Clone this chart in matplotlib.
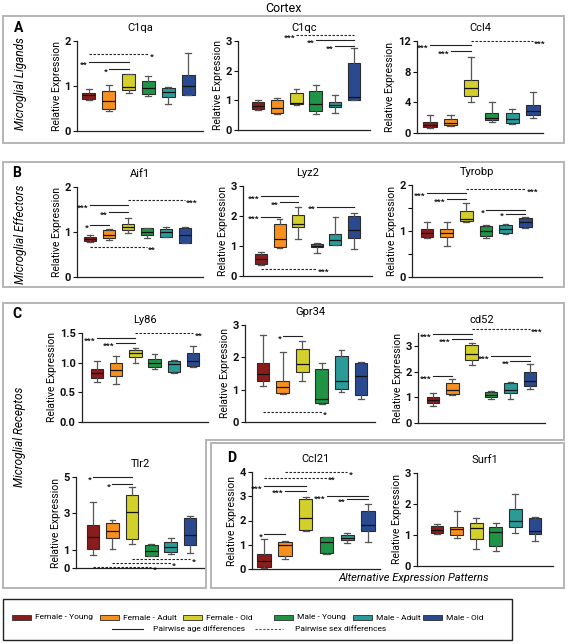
import matplotlib
matplotlib.use("Agg")
import matplotlib.pyplot as plt
from matplotlib.patches import Rectangle, Polygon
from matplotlib.lines import Line2D

plt.rcParams["font.family"] = ["Roboto", "DejaVu Sans"]

GROUPS = ["Female - Young", "Female - Adult", "Female - Old",
          "Male - Young", "Male - Adult", "Male - Old"]
COLORS = ["#8b1c1c", "#f7901e", "#d3cf2b", "#1f9445", "#2a9b98", "#2a4a90"]

# each row: whisker low, q1, median, q3, whisker high
C1QA = [[0.68, 0.72, 0.79, 0.85, 0.93], [0.45, 0.50, 0.67, 0.90, 1.03],
        [0.85, 0.91, 0.98, 1.26, 1.27], [0.78, 0.82, 0.95, 1.12, 1.22],
        [0.60, 0.75, 0.87, 0.95, 0.98], [0.80, 0.81, 1.00, 1.25, 1.73]]
C1QC = [[0.68, 0.70, 0.81, 0.93, 1.00], [0.55, 0.58, 0.75, 1.00, 1.07],
        [0.85, 0.88, 0.92, 1.25, 1.37], [0.55, 0.65, 0.88, 1.30, 1.52],
        [0.58, 0.77, 0.85, 0.93, 1.18], [1.00, 1.01, 1.10, 2.27, 2.78]]
CCL4 = [[0.60, 0.75, 1.10, 1.50, 2.40], [0.85, 1.00, 1.35, 1.80, 2.40],
        [4.00, 4.80, 5.90, 6.90, 9.90], [1.50, 1.70, 2.00, 2.60, 4.00],
        [1.20, 1.30, 1.80, 2.60, 3.10], [1.90, 2.30, 2.90, 3.60, 5.30]]
AIF1 = [[0.77, 0.80, 0.85, 0.90, 0.93], [0.83, 0.86, 0.93, 1.05, 1.07],
        [0.98, 1.05, 1.12, 1.18, 1.32], [0.86, 0.93, 1.00, 1.08, 1.10],
        [0.88, 0.90, 1.00, 1.07, 1.12], [0.75, 0.76, 0.93, 1.10, 1.11]]
LYZ2 = [[0.36, 0.40, 0.58, 0.73, 0.81], [0.94, 0.98, 1.22, 1.75, 1.90],
        [1.25, 1.63, 1.73, 2.05, 2.30], [0.78, 0.96, 1.00, 1.06, 1.09],
        [1.03, 1.05, 1.20, 1.40, 1.98], [0.90, 1.27, 1.53, 2.00, 2.10]]
TYROBP = [[0.84, 0.88, 0.96, 1.05, 1.20], [0.68, 0.87, 0.95, 1.05, 1.20],
          [1.20, 1.21, 1.27, 1.43, 1.60], [0.85, 0.90, 1.00, 1.10, 1.12],
          [0.93, 0.96, 1.04, 1.13, 1.15], [1.06, 1.09, 1.20, 1.28, 1.31]]
LY86 = [[0.68, 0.75, 0.83, 0.89, 1.02], [0.64, 0.78, 0.88, 1.00, 1.11],
        [1.00, 1.10, 1.17, 1.21, 1.24], [0.89, 0.93, 1.00, 1.06, 1.14],
        [0.82, 0.85, 0.98, 1.03, 1.05], [0.93, 0.94, 1.03, 1.17, 1.28]]
GPR34 = [[1.12, 1.28, 1.50, 1.82, 2.70], [0.87, 0.90, 1.08, 1.27, 2.17],
         [1.28, 1.56, 1.78, 2.25, 2.49], [0.56, 0.58, 0.72, 1.63, 1.84],
         [0.92, 1.02, 1.28, 2.04, 2.22], [0.71, 0.82, 1.42, 1.84, 1.86]]
CD52 = [[0.67, 0.77, 0.90, 1.00, 1.15], [1.08, 1.12, 1.30, 1.55, 1.71],
        [2.25, 2.45, 2.68, 3.05, 3.12], [0.93, 1.00, 1.09, 1.19, 1.25],
        [0.93, 1.15, 1.30, 1.57, 1.60], [1.33, 1.44, 1.62, 2.00, 2.30]]
TLR2 = [[0.70, 1.03, 1.70, 2.35, 3.60], [1.05, 1.63, 2.03, 2.45, 2.65],
        [1.30, 1.60, 3.05, 4.00, 4.45], [0.66, 0.68, 0.93, 1.26, 1.30],
        [0.77, 0.90, 1.17, 1.41, 1.63], [0.80, 1.27, 1.80, 2.73, 2.85]]
CCL21 = [[0.05, 0.08, 0.33, 0.62, 1.22], [0.41, 0.54, 0.98, 1.13, 1.17],
         [1.55, 1.60, 2.10, 2.88, 2.97], [0.63, 0.65, 1.13, 1.32, 1.34],
         [1.09, 1.19, 1.28, 1.42, 1.47], [1.10, 1.58, 1.80, 2.38, 2.68]]
SURF1 = [[1.03, 1.05, 1.17, 1.30, 1.36], [0.90, 1.00, 1.20, 1.25, 1.77],
         [0.55, 0.86, 1.23, 1.38, 1.55], [0.50, 0.63, 1.10, 1.26, 1.39],
         [1.08, 1.27, 1.45, 1.85, 2.33], [0.80, 1.02, 1.12, 1.55, 1.58]]

# significance bars: (group from, group to, level, stars, dashed=sex difference, star side)
C1QA_SIG = [(1, 4, 1.71, "*", True, "r"), (1, 3, 1.53, "**", False, "l"),
            (2, 3, 1.38, "*", False, "l")]
C1QC_SIG = [(3, 6, 3.20, "***", True, "l"), (4, 6, 3.03, "**", False, "l"),
            (5, 6, 2.83, "**", False, "l")]
CCL4_SIG = [(1, 3, 11.5, "***", False, "l"), (2, 3, 10.7, "***", False, "l"),
            (3, 6, 12.0, "***", True, "r")]
AIF1_SIG = [(1, 3, 1.60, "***", False, "l"), (2, 3, 1.45, "**", False, "l"),
            (1, 2, 1.16, "*", False, "l"), (3, 6, 1.71, "***", True, "r"),
            (1, 4, 0.67, "**", True, "r")]
LYZ2_SIG = [(1, 3, 2.67, "***", False, "l"), (2, 3, 2.46, "**", False, "l"),
            (1, 2, 1.98, "***", False, "l"), (4, 6, 2.31, "**", False, "l"),
            (1, 4, 0.22, "***", True, "r")]
TYROBP_SIG = [(1, 3, 1.82, "***", False, "l"), (2, 3, 1.70, "***", False, "l"),
              (3, 6, 1.91, "***", True, "r"), (4, 6, 1.46, "*", False, "l"),
              (5, 6, 1.38, "*", False, "l")]
LY86_SIG = [(1, 3, 1.42, "***", False, "l"), (2, 3, 1.33, "***", False, "l"),
            (3, 6, 1.50, "**", True, "r")]
GPR34_SIG = [(2, 3, 2.66, "*", False, "l"), (1, 4, 0.30, "*", True, "r")]
CD52_SIG = [(1, 3, 3.45, "***", False, "l"), (2, 3, 3.26, "***", False, "l"),
            (3, 6, 3.65, "***", True, "r"), (1, 2, 1.83, "***", False, "l"),
            (4, 6, 2.60, "***", False, "l"), (5, 6, 2.41, "**", False, "l")]
TLR2_SIG = [(1, 3, 5.00, "*", False, "l"), (2, 3, 4.60, "*", False, "l"),
            (3, 6, 0.48, "*", True, "r"), (2, 5, 0.29, "*", True, "r"),
            (1, 4, 0.04, "*", True, "r")]
CCL21_SIG = [(1, 4, 3.77, "**", True, "r"), (2, 5, 4.01, "*", True, "r"),
             (1, 3, 3.42, "***", False, "l"), (2, 3, 3.23, "***", False, "l"),
             (4, 6, 3.02, "***", False, "l"), (5, 6, 2.87, "**", False, "l"),
             (1, 2, 1.44, "*", False, "l")]
SURF1_SIG = []

W, H = 568, 644
fig = plt.figure(figsize=(W / 100, H / 100), dpi=100)
EDGE = "#2b2b2b"


def fig_xy(x, y):
    return x / W, 1 - y / H


def draw_gene(name, stats, sigs, box, xlim, ymax, yticks, fmt="%g"):
    l, r, t, b = box
    ax = fig.add_axes([l / W, 1 - b / H, (r - l) / W, (b - t) / H])
    bxp_stats = [dict(whislo=s[0], q1=s[1], med=s[2], q3=s[3], whishi=s[4]) for s in stats]
    parts = ax.bxp(bxp_stats, positions=range(1, 7), widths=0.65, showfliers=False,
                   patch_artist=True, capwidths=0.3,
                   boxprops=dict(edgecolor=EDGE, linewidth=0.8),
                   medianprops=dict(color="#111111", linewidth=0.9),
                   whiskerprops=dict(color="#555555", linewidth=0.9),
                   capprops=dict(color="#555555", linewidth=0.9))
    for patch, c in zip(parts["boxes"], COLORS):
        patch.set_facecolor(c)

    for i, j, y, stars, dashed, side in sigs:
        ax.plot([i, j], [y, y], color="#222222", lw=0.8,
                ls=(0, (2.2, 1.4)) if dashed else "-", clip_on=False)
        if side == "l":
            ax.annotate(stars, (i, y), xytext=(-1, -3.3), textcoords="offset points",
                        ha="right", va="baseline", fontsize=6, fontweight="bold",
                        annotation_clip=False)
        else:
            ax.annotate(stars, (j, y), xytext=(1, -3.3), textcoords="offset points",
                        ha="left", va="baseline", fontsize=6, fontweight="bold",
                        annotation_clip=False)

    ax.set_xlim(*xlim)
    ax.set_ylim(0, ymax)
    ax.set_xticks([])
    ax.set_yticks(yticks, [fmt % v for v in yticks], fontweight="bold", fontsize=8)
    ax.tick_params(axis="y", direction="out", length=3, width=0.8, pad=1.5, colors="#111111")
    for side in ("top", "right"):
        ax.spines[side].set_visible(False)
    for side in ("left", "bottom"):
        ax.spines[side].set_color("#222222")
        ax.spines[side].set_linewidth(0.9)
    ax.set_ylabel("Relative Expression", fontsize=7.5, labelpad=2)
    ax.set_title(name, fontsize=8, pad=7)
    ax.patch.set_alpha(0)
    return ax


draw_gene("C1qa", C1QA, C1QA_SIG, (77, 203, 41, 131), (0.4, 6.75), 2, [0, 1, 2])
draw_gene("C1qc", C1QC, C1QC_SIG, (238, 370, 41, 130), (-0.04, 6.83), 3, [0, 1, 2, 3])
draw_gene("Ccl4", CCL4, CCL4_SIG, (417, 543, 41, 133), (0.37, 6.49), 12, [0, 4, 8, 12])
draw_gene("Aif1", AIF1, AIF1_SIG, (77, 203, 187, 277), (0.32, 6.95), 2, [0, 1, 2])
draw_gene("Lyz2", LYZ2, LYZ2_SIG, (243, 372, 186, 276), (0.03, 6.97), 3, [0, 1, 2, 3])
ax_ty = draw_gene("Tyrobp", TYROBP, TYROBP_SIG, (412, 542, 185, 277), (0.23, 6.86), 2, [0, 1, 2])
ax_ty.set_yticks([0.5, 1.5], minor=True)
ax_ty.tick_params(axis="y", which="minor", length=3, width=0.8)
draw_gene("Ly86", LY86, LY86_SIG, (82, 208, 333, 422), (0.22, 6.78), 1.5,
          [0, 0.5, 1.0, 1.5], fmt="%.1f")
draw_gene("Gpr34", GPR34, GPR34_SIG, (245, 375, 325, 422), (0.08, 6.71), 3, [0, 1, 2, 3])
draw_gene("cd52", CD52, CD52_SIG, (418, 545, 333, 423), (0.23, 6.78), 3.5, [0, 1, 2, 3])
draw_gene("Tlr2", TLR2, TLR2_SIG, (76, 205, 477, 568), (0.12, 6.77), 5, [0, 1, 3, 5])
draw_gene("Ccl21", CCL21, CCL21_SIG, (252, 380, 472, 569), (0.42, 6.57), 4, [0, 1, 2, 3, 4])
draw_gene("Surf1", SURF1, SURF1_SIG, (417, 553, 473, 566), (-0.02, 6.92), 3, [0, 1, 2, 3])

# panel frames
FRAME = dict(fill=False, edgecolor="#b5b5b5", linewidth=1.4, transform=fig.transFigure)


def frame_rect(x0, y0, x1, y1):
    fig.add_artist(Rectangle(fig_xy(x0, y1), (x1 - x0) / W, (y1 - y0) / H, **FRAME))


frame_rect(3, 16, 564, 143)
frame_rect(3, 162, 564, 287)
fig.add_artist(Polygon([fig_xy(*p) for p in [(3, 303), (564, 303), (564, 440), (206, 440),
                                             (206, 588), (3, 588)]], closed=True, **FRAME))
frame_rect(211, 443, 564, 588)

fig.text(0.5, 1 - 8 / H, "Cortex", ha="center", va="center", fontsize=9)
for letter, (x, y) in zip("ABCD", [(19, 28), (17, 173), (17, 314), (232, 458)]):
    fig.text(*fig_xy(x, y), letter, ha="center", va="center", fontsize=10, fontweight="bold")
for label, (x, y) in zip(["Microglial Ligands", "Microglial Effectors", "Microglial Receptos"],
                         [(21, 84), (21, 234), (20, 437)]):
    fig.text(*fig_xy(x, y), label, ha="center", va="center", rotation=90,
             fontsize=8.5, style="italic")
fig.text(*fig_xy(414, 578), "Alternative Expression Patterns", ha="center", va="center",
         fontsize=8, style="italic")

# legend
fig.add_artist(Rectangle(fig_xy(3, 640), 509 / W, 41 / H, fill=False, edgecolor="#222222",
                         linewidth=1.0, transform=fig.transFigure))
patch_x = [12, 100, 183, 274, 353, 423]
for name, c, x in zip(GROUPS, COLORS, patch_x):
    fig.add_artist(Rectangle(fig_xy(x, 620), 19 / W, 5 / H, facecolor=c, edgecolor=EDGE,
                             linewidth=0.6, transform=fig.transFigure))
    fig.text(*fig_xy(x + 23, 617.5), name, ha="left", va="center", fontsize=6)
fig.add_artist(Line2D([112 / W, 143 / W], [1 - 629 / H] * 2, color="#222222", lw=0.8,
                      transform=fig.transFigure))
fig.text(*fig_xy(153, 629), "Pairwise age differences", ha="left", va="center", fontsize=6)
fig.add_artist(Line2D([255 / W, 283 / W], [1 - 629 / H] * 2, color="#555555", lw=0.8,
                      ls=(0, (2, 1.5)), transform=fig.transFigure))
fig.text(*fig_xy(295, 629), "Pairwise sex differences", ha="left", va="center", fontsize=6)

fig.savefig("out.png", dpi=100)
